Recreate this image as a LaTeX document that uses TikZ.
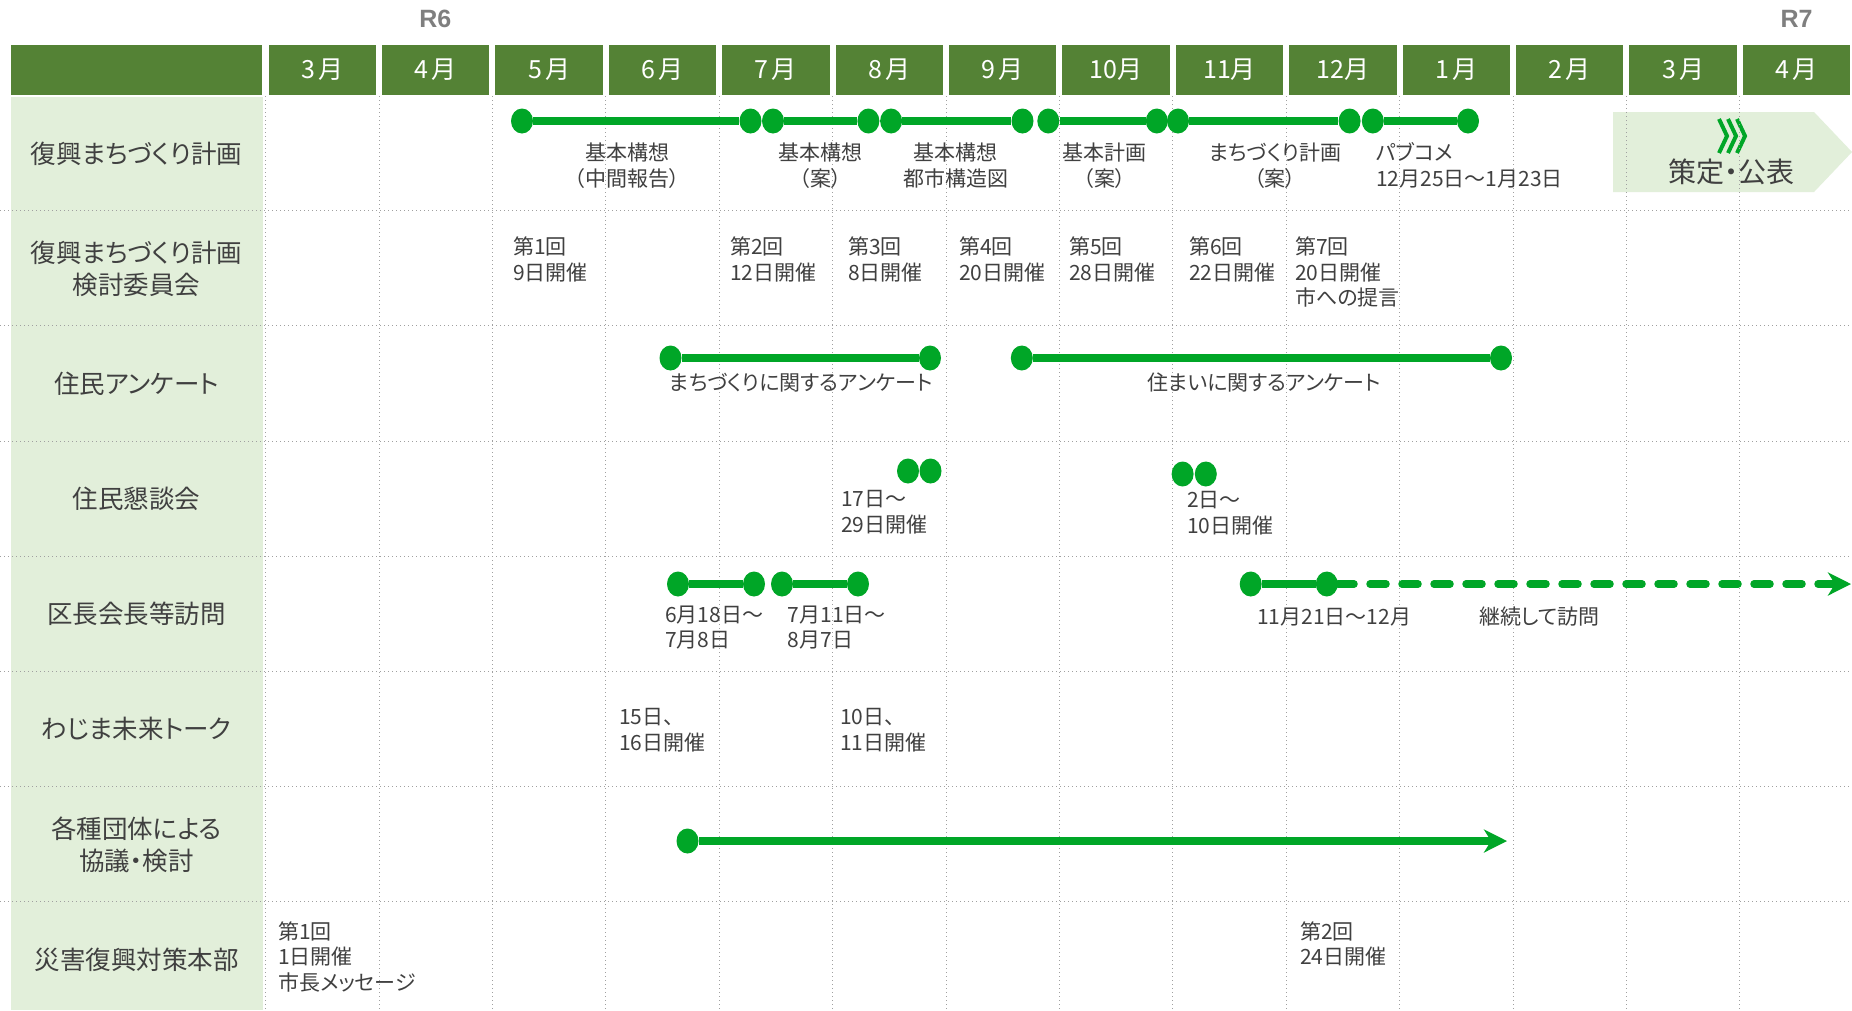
\documentclass[tikz,border=0pt]{standalone}
\usepackage{fontspec}
\setmainfont{Noto Sans CJK JP}[RawFeature=+palt]
\newfontfamily\rfont{Liberation Sans}
\usetikzlibrary{arrows.meta,shapes.geometric}
\definecolor{hdr}{HTML}{548235}
\definecolor{lgr}{HTML}{E2EFDA}
\definecolor{tlg}{HTML}{00A627}
\definecolor{txt}{HTML}{404040}
\definecolor{gridc}{HTML}{A0A0A0}
\definecolor{rcol}{HTML}{7F7F7F}
\begin{document}
\begin{tikzpicture}[x=1pt,y=-1pt,
  hbox/.style={fill=hdr, text=white, minimum width=107.4pt, minimum height=50pt, inner sep=0pt, font=\fontsize{25}{30}\selectfont},
  lbl/.style={text=txt, align=center, inner sep=0pt, font=\fontsize{25.5}{32}\selectfont},
  dt/.style={text=txt, align=left, anchor=west, inner sep=0pt, font=\fontsize{21}{25.5}\selectfont},
  dtc/.style={text=txt, align=center, anchor=center, inner sep=0pt, font=\fontsize{21}{25.5}\selectfont},
  dot/.style={ellipse, fill=tlg, minimum width=22pt, minimum height=25pt, inner sep=0pt},
  tl/.style={draw=tlg, line width=7.5pt},
  tip/.style={-{Stealth[length=23pt,width=23pt,inset=7pt]}},
  gridl/.style={draw=gridc, line width=1pt, dash pattern=on 1pt off 3pt},
  rlab/.style={text=rcol, inner sep=0pt, font=\rfont\bfseries\fontsize{25}{30}\selectfont}
]
\useasboundingbox (0,0) rectangle (1852,1010);
\fill[white] (0,0) rectangle (1852,1010);

% left column background
\fill[lgr] (11,97) rectangle (263,1010);

% final pentagon
\fill[lgr] (1613,112) -- (1814,112) -- (1852,152) -- (1814,192) -- (1613,192) -- cycle;
\foreach \i in {0,1,2}
  \draw[tlg, line width=4pt] ({1719+9*\i},119) -- ({1727+9*\i},136) -- ({1719+9*\i},153);
\node[text=txt, inner sep=0pt, font=\fontsize{28}{32}\selectfont] (final) at (1731,172) {策定・公表};

% grid
\foreach \k in {0,...,13}
  \draw[gridl] ({265.6+113.4*\k},96) -- ({265.6+113.4*\k},1010);
\foreach \r in {1,...,7}
  \draw[gridl] (0,{95.5+115.2*\r}) -- (1852,{95.5+115.2*\r});

% header
\node[rlab] (r6) at (435.3,19) {R6};
\node[rlab] (r7) at (1796.5,19) {R7};
\node[fill=hdr, minimum width=251pt, minimum height=50pt, inner sep=0pt] (hl) at (136.5,70) {};
\foreach \t [count=\i from 0] in {{3\kern3pt月},{4\kern3pt月},{5\kern3pt月},{6\kern3pt月},{7\kern3pt月},{8\kern3pt月},{9\kern3pt月},10月,11月,12月,{1\kern3pt月},{2\kern3pt月},{3\kern3pt月},{4\kern3pt月}}
  \node[hbox] (m\i) at ({322.3+113.4*\i},70) {\t};

% row labels
\node[lbl] (L1) at (136.5,153.5) {復興まちづくり計画};
\node[lbl] (L2) at (136.5,268.5) {復興まちづくり計画\\検討委員会};
\node[lbl] (L3) at (136.5,384) {住民アンケート};
\node[lbl] (L4) at (136.5,498.5) {住民懇談会};
\node[lbl] (L5) at (136.5,614) {区長会長等訪問};
\node[lbl] (L6) at (136.5,729) {わじま未来トーク};
\node[lbl] (L7) at (136.5,844.5) {各種団体による\\協議・検討};
\node[lbl] (L8) at (136.5,959.5) {災害復興対策本部};

% row 1
\node[dot] (a1) at (522,121) {};
\node[dot] (a2) at (750.5,121) {};
\node[dot] (b1) at (773,121) {};
\node[dot] (b2) at (868.4,121) {};
\node[dot] (c1) at (891.1,121) {};
\node[dot] (c2) at (1022.5,121) {};
\node[dot] (d1) at (1048.3,121) {};
\node[dot] (d2) at (1156.8,121) {};
\node[dot] (e1) at (1178,121) {};
\node[dot] (e2) at (1349.6,121) {};
\node[dot] (f1) at (1372.8,121) {};
\node[dot] (f2) at (1468,121) {};
\draw[tl] (a1) -- (a2);
\draw[tl] (b1) -- (b2);
\draw[tl] (c1) -- (c2);
\draw[tl] (d1) -- (d2);
\draw[tl] (e1) -- (e2);
\draw[tl] (f1) -- (f2);
\node[dtc] (t1) at (627,165.5) {基本構想\\（中間報告）};
\node[dtc] (t2) at (820.6,165.5) {基本構想\\（案）};
\node[dtc] (t3) at (955.5,165.5) {基本構想\\都市構造図};
\node[dtc] (t4) at (1104.6,165.5) {基本計画\\（案）};
\node[dtc] (t5) at (1275,165.5) {まちづくり計画\\（案）};
\node[dt] (t6) at (1376,165.5) {パブコメ\\12月25日～1月23日};

% row 2
\node[dt] (k1) at (513,259.5) {第1回\\9日開催};
\node[dt] (k2) at (730,259.5) {第2回\\12日開催};
\node[dt] (k3) at (848,259.5) {第3回\\8日開催};
\node[dt] (k4) at (959,259.5) {第4回\\20日開催};
\node[dt] (k5) at (1069,259.5) {第5回\\28日開催};
\node[dt] (k6) at (1189,259.5) {第6回\\22日開催};
\node[dt] (k7) at (1295,272) {第7回\\20日開催\\市への提言};

% row 3
\node[dot] (q1) at (670.5,358) {};
\node[dot] (q2) at (930,358) {};
\node[dot] (q3) at (1021.8,358) {};
\node[dot] (q4) at (1501,358) {};
\draw[tl] (q1) -- (q2);
\draw[tl] (q3) -- (q4);
\node[dtc] (qa) at (801,383) {まちづくりに関するアンケート};
\node[dtc] (qb) at (1264,383) {住まいに関するアンケート};

% row 4
\node[dot] (s1) at (908,471) {};
\node[dot] (s2) at (930.5,471) {};
\node[dot] (s3) at (1182.6,474) {};
\node[dot] (s4) at (1205.8,474) {};
\node[dt] (sa) at (841,512) {17日～\\29日開催};
\node[dt] (sb) at (1187,513) {2日～\\10日開催};

% row 5
\node[dot] (v1) at (678,584) {};
\node[dot] (v2) at (754,584) {};
\node[dot] (v3) at (782,584) {};
\node[dot] (v4) at (858,584) {};
\node[dot] (v5) at (1250.7,584) {};
\node[dot] (v6) at (1326.8,584) {};
\coordinate (vend) at (1851,584);
\draw[tl] (v1) -- (v2);
\draw[tl] (v3) -- (v4);
\draw[tl] (v5) -- (v6);
\draw[tl, tip, dash pattern=on 16pt off 16pt, line cap=round] (v6) -- (vend);
\node[dt] (va) at (665,627.5) {6月18日～\\7月8日};
\node[dt] (vb) at (787.5,627.5) {7月11日～\\8月7日};
\node[dt] (vc) at (1257,616.7) {11月21日～12月};
\node[dt] (vd) at (1479,616.7) {継続して訪問};

% row 6
\node[dt] (w1) at (619,730) {15日、\\16日開催};
\node[dt] (w2) at (840,730) {10日、\\11日開催};

% row 7
\node[dot] (g1) at (687.5,841) {};
\coordinate (gend) at (1507,841);
\draw[tl, tip] (g1) -- (gend);

% row 8
\node[dt] (h1) at (278,956.7) {第1回\\1日開催\\市長メッセージ};
\node[dt] (h2) at (1300,944) {第2回\\24日開催};
\end{tikzpicture}
\end{document}
